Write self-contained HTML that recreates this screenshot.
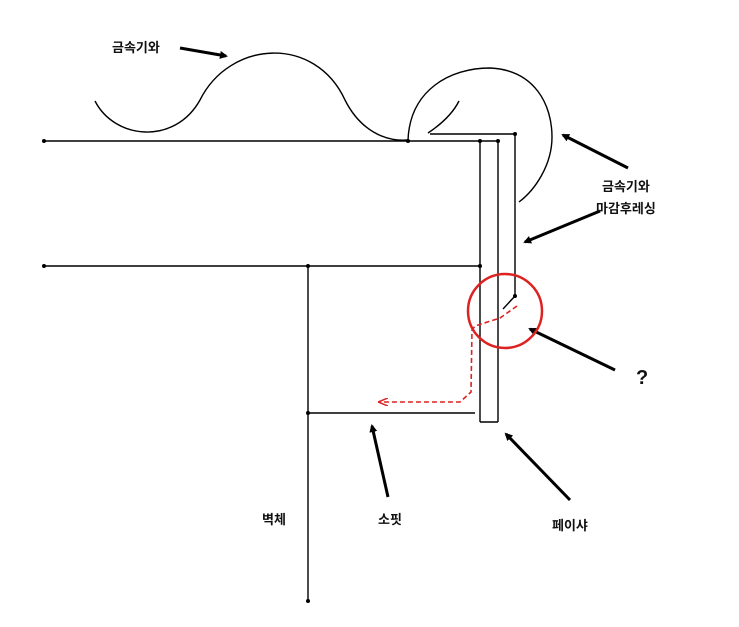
<!DOCTYPE html>
<html><head><meta charset="utf-8"><style>
body{margin:0;background:#fff}
svg{display:block}
text{font-family:"Liberation Sans","Noto Sans CJK KR",sans-serif;font-weight:bold;font-size:13px;fill:#111}
</style></head><body>
<svg width="739" height="627" viewBox="0 0 739 627" xmlns="http://www.w3.org/2000/svg">
<defs>
<marker id="ah" markerWidth="8" markerHeight="8" refX="6" refY="4" orient="auto" markerUnits="userSpaceOnUse"><path d="M0,0 L8,4 L0,8 Z" fill="#000"/></marker>
<marker id="rh" markerWidth="10" markerHeight="8" refX="10" refY="4" orient="auto" markerUnits="userSpaceOnUse"><path d="M0,0 L10,4 L0,8" fill="none" stroke="#d22" stroke-width="1.5"/></marker>
</defs>
<g stroke="#000" stroke-width="1.4" fill="none">
<line x1="44" y1="141" x2="498" y2="141"/>
<line x1="430" y1="134" x2="515" y2="134"/>
<line x1="480" y1="141" x2="480" y2="422"/>
<line x1="498" y1="141" x2="498" y2="422"/>
<line x1="480" y1="422" x2="498" y2="422"/>
<line x1="515" y1="134" x2="515" y2="296"/>
<line x1="515" y1="296" x2="503" y2="309"/>
<line x1="44" y1="266" x2="480" y2="266"/>
<line x1="308" y1="266" x2="308" y2="601"/>
<line x1="308" y1="413" x2="475" y2="413"/>
<path d="M95,101 C115,140 175,145 200,100 C230,40 315,35 345,100 C360,130 385,142 408,140"/>
<path d="M408,140 C410,90 450,68 490,68 C535,70 552,105 552,137 C552,165 535,190 519,202"/>
<path d="M428,133 C440,125 452,115 459,101"/>
</g>
<g fill="#000">
<circle cx="44" cy="141" r="2"/><circle cx="44" cy="266" r="2"/>
<circle cx="308" cy="266" r="2"/><circle cx="308" cy="413" r="2"/><circle cx="308" cy="601" r="2"/>
<circle cx="480" cy="141" r="2"/><circle cx="498" cy="141" r="2"/><circle cx="515" cy="134" r="2"/>
<circle cx="480" cy="266" r="2"/><circle cx="515" cy="296" r="2"/><circle cx="408" cy="141" r="2"/>
</g>
<g stroke="#000" stroke-width="3" fill="none" marker-end="url(#ah)">
<line x1="180" y1="48" x2="226" y2="56"/>
<line x1="628" y1="168" x2="563" y2="135"/>
<line x1="600" y1="211" x2="525" y2="242"/>
<line x1="615" y1="370" x2="530" y2="329"/>
<line x1="570" y1="500" x2="506" y2="434"/>
<line x1="388" y1="497" x2="372" y2="426"/>
</g>
<circle cx="505" cy="311" r="37" stroke="#d22" stroke-width="2.5" fill="none"/>
<path d="M517,306 L500,318 L475,326 L472,330 L471,392 L460,402 L378,402" stroke="#d22" stroke-width="1.6" stroke-dasharray="5,3" fill="none" marker-end="url(#rh)"/>
<text x="112" y="52">금속기와</text>
<text x="602" y="191">금속기와</text>
<text x="596" y="213">마감후레싱</text>
<text x="636" y="384" style="font-size:20px">?</text>
<text x="262" y="524">벽체</text>
<text x="378" y="524">소핏</text>
<text x="552" y="530">페이샤</text>
</svg>
</body></html>
